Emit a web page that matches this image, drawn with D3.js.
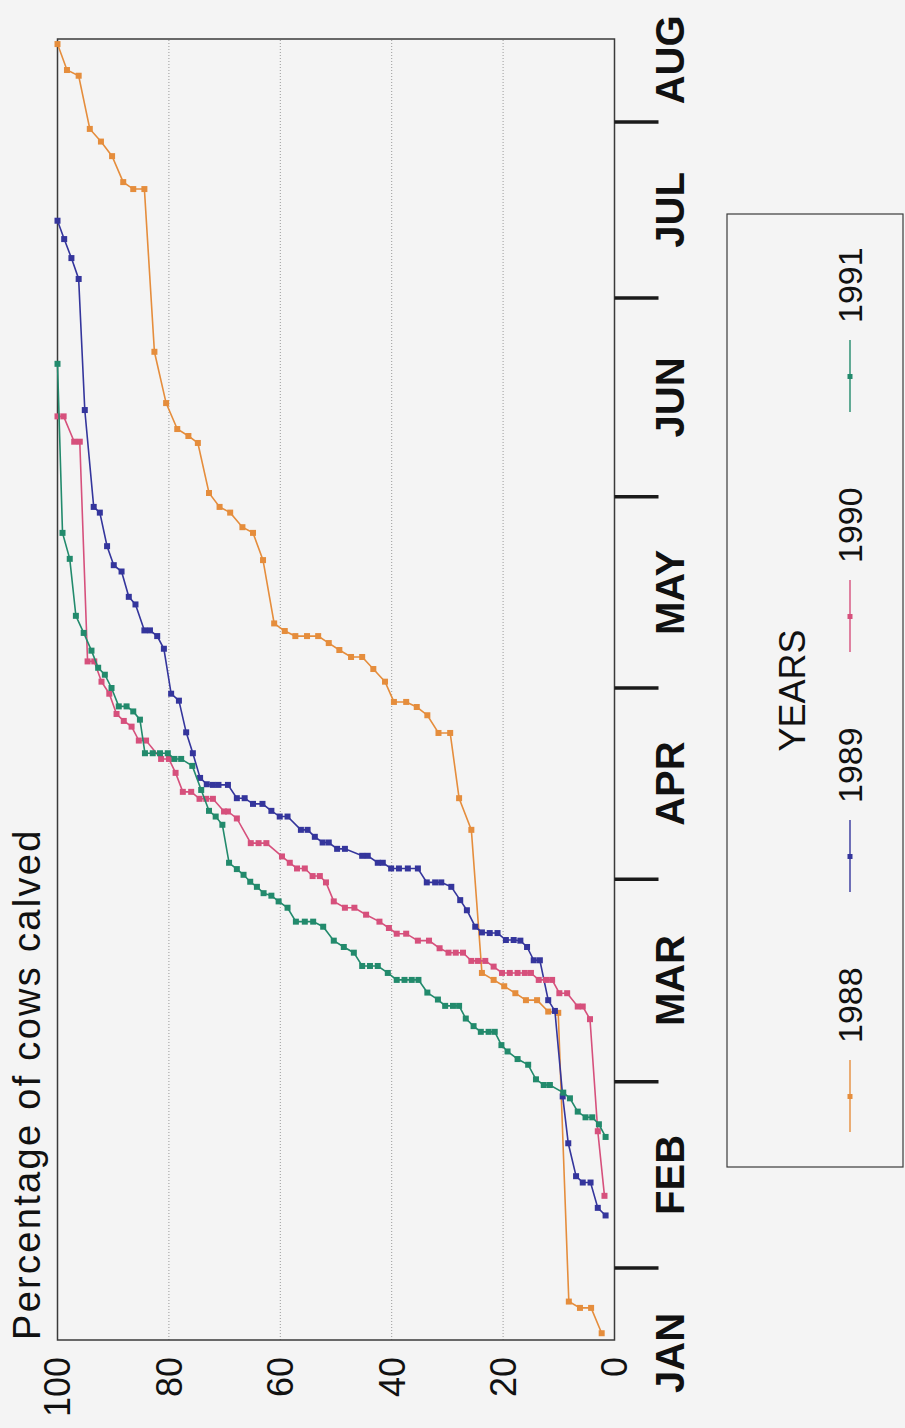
<!DOCTYPE html>
<html>
<head>
<meta charset="utf-8">
<script src="https://cdn.jsdelivr.net/npm/d3@7"></script>
<style>
  body { margin: 0; background: #f4f4f4; }
  text { font-family: 'Liberation Sans', Arial, sans-serif; fill: #111; }
</style>
</head>
<body>
<svg id="area"></svg>
<script>
// day of year (Jan 1 = 0) , cumulative % calved
const calving1988 = [[20.7, 2.3], [24.7, 4.2], [24.7, 6.2], [25.7, 8.2], [71.3, 10.1], [71.5, 11.9], [73.3, 13.9], [73.3, 15.9], [74.4, 17.8], [75.5, 19.8], [76.5, 21.7], [77.6, 23.8], [100.2, 25.7], [105.2, 27.9], [115.5, 29.5], [115.5, 31.6], [118.3, 33.6], [119.6, 35.5], [120.4, 37.4], [120.4, 39.6], [123.6, 41.2], [125.6, 43.3], [127.5, 45.3], [127.5, 47.3], [128.6, 49.4], [129.7, 51.3], [130.8, 53.2], [130.8, 55.2], [130.8, 57.3], [131.6, 59.2], [132.8, 61.1], [142.8, 63.1], [147.1, 64.9], [148.0, 66.8], [150.3, 69.0], [151.2, 70.9], [153.4, 72.8], [161.3, 74.8], [162.4, 76.5], [163.5, 78.5], [167.6, 80.5], [175.7, 82.6], [201.4, 84.4], [201.4, 86.4], [202.5, 88.2], [206.6, 90.2], [208.9, 92.2], [210.9, 94.2], [219.3, 96.2], [220.2, 98.3], [224.3, 100]];

const calving1989 = [[39.3, 1.6], [40.5, 3.0], [44.5, 4.3], [44.5, 5.7], [45.5, 6.9], [50.7, 8.3], [58.1, 9.3], [71.6, 10.7], [73.3, 11.9], [79.6, 13.4], [79.6, 14.5], [81.7, 15.7], [82.7, 16.9], [82.8, 18.1], [82.8, 19.5], [83.9, 21.0], [83.9, 22.4], [84.0, 23.8], [84.9, 25.0], [87.5, 26.5], [89.1, 27.7], [91.2, 29.3], [91.9, 31.1], [91.9, 32.2], [91.9, 33.7], [94.1, 35.3], [94.1, 37.1], [94.1, 38.7], [94.1, 40.1], [95.0, 41.6], [95.0, 42.5], [96.1, 44.3], [96.1, 45.3], [97.2, 48.4], [97.2, 49.8], [98.2, 51.3], [98.2, 52.4], [99.1, 53.8], [100.2, 55.1], [100.2, 56.3], [102.3, 58.7], [102.3, 60.1], [103.2, 61.6], [104.3, 63.2], [104.3, 64.9], [105.2, 66.4], [105.2, 67.8], [107.3, 69.4], [107.3, 71.1], [107.3, 72.1], [107.4, 73.2], [108.4, 74.4], [112.3, 75.7], [115.6, 76.9], [120.6, 78.2], [121.7, 79.6], [128.8, 80.9], [130.8, 82.1], [131.7, 83.4], [131.7, 84.4], [135.8, 86.0], [137.0, 87.2], [141.0, 88.5], [142.0, 89.9], [145.0, 91.1], [150.3, 92.4], [151.2, 93.5], [166.5, 95.1], [187.2, 96.2], [190.5, 97.5], [193.5, 98.8], [196.4, 100]];

const calving1990 = [[42.4, 1.8], [52.6, 3.0], [70.3, 4.4], [72.3, 5.7], [72.3, 6.6], [74.4, 8.5], [74.4, 9.9], [76.5, 11.2], [76.5, 12.3], [76.5, 13.6], [77.6, 15.0], [77.6, 16.1], [77.6, 17.4], [77.6, 18.8], [77.6, 20.2], [78.6, 21.7], [79.5, 23.2], [79.5, 24.5], [79.5, 25.7], [80.8, 27.2], [80.8, 28.5], [80.8, 29.8], [81.5, 31.4], [82.7, 33.3], [82.7, 35.3], [83.8, 37.4], [83.8, 39.1], [84.7, 40.5], [85.7, 42.2], [86.8, 44.6], [87.9, 46.7], [87.9, 48.4], [88.9, 50.4], [91.9, 51.8], [92.9, 52.9], [92.9, 54.2], [94.1, 55.6], [94.1, 57.0], [95.0, 58.3], [96.0, 59.7], [98.1, 62.5], [98.1, 63.9], [98.1, 65.3], [102.0, 67.8], [103.1, 69.4], [103.1, 70.1], [105.1, 72.1], [105.1, 73.3], [105.1, 74.5], [106.2, 76.0], [106.2, 77.5], [109.2, 78.8], [111.4, 80.0], [111.4, 81.4], [114.3, 84.1], [114.3, 85.4], [116.5, 86.7], [117.4, 88.1], [118.5, 89.4], [121.7, 90.7], [123.6, 92.1], [126.8, 93.4], [126.8, 94.6], [161.5, 96.0], [161.5, 97.0], [165.5, 98.9], [165.5, 100]];

const calving1991 = [[51.7, 1.6], [53.7, 2.8], [54.8, 4.0], [54.8, 5.2], [55.7, 6.6], [57.8, 8.0], [58.7, 9.2], [59.9, 11.6], [59.9, 12.7], [60.8, 14.1], [63.1, 15.5], [64.0, 17.4], [65.2, 19.2], [66.2, 20.3], [68.3, 21.5], [68.3, 22.6], [68.3, 24.0], [69.2, 25.3], [70.4, 26.7], [72.4, 27.9], [72.4, 29.0], [72.4, 30.4], [73.4, 31.7], [74.5, 33.6], [76.5, 35.2], [76.5, 36.4], [76.5, 37.7], [76.5, 39.1], [77.6, 40.7], [78.7, 42.5], [78.7, 43.9], [78.7, 45.3], [80.8, 46.8], [81.7, 48.6], [82.7, 50.4], [84.9, 52.3], [85.7, 54.1], [85.7, 55.6], [85.7, 57.2], [87.9, 58.7], [88.9, 60.3], [89.8, 61.6], [90.2, 63.0], [91.2, 64.2], [92.0, 65.4], [93.1, 66.6], [94.0, 67.8], [95.0, 69.2], [101.0, 70.4], [102.3, 71.6], [103.2, 72.8], [106.5, 74.2], [110.3, 75.8], [111.4, 77.8], [111.4, 79.0], [112.3, 80.2], [112.3, 81.6], [112.3, 82.9], [112.3, 84.3], [117.6, 85.2], [118.9, 86.4], [119.7, 87.6], [119.7, 89.0], [122.6, 90.3], [124.7, 91.5], [125.8, 92.7], [128.5, 93.9], [131.3, 95.3], [134.0, 96.7], [143.0, 97.8], [147.1, 99.1], [173.8, 100]];

const years = ['1988', '1989', '1990', '1991'];
const yearColors = ['#e58d3c', '#34359c', '#d6507c', '#228a6c'];
const seriesList = [calving1988, calving1989, calving1990, calving1991];

const monthNames = ['JAN', 'FEB', 'MAR', 'APR', 'MAY', 'JUN', 'JUL', 'AUG'];
const monthLabelDays = [17.6, 45.7, 76.4, 107.5, 137.7, 168.5, 198.1, 221.8];
const monthBreaks = [31, 60.4, 92.4, 122.6, 152.8, 184.2, 212];
const pctTicks = [0, 20, 40, 60, 80, 100];
const gridTicks = [20, 40, 60, 80];

const W = 905;
const H = 1428;

const svg = d3.select('#area')
  .attr('width', W)
  .attr('height', H);

svg.append('rect').attr('width', W).attr('height', H).attr('fill', '#f4f4f4');

// the chart is laid out landscape and turned a quarter to the left
const g = svg.append('g')
  .attr('transform', `translate(0, ${H}) rotate(-90)`);

const x = d3.scaleLinear()
  .domain([19.63, 225.1])
  .range([88, 1389]);

const y = d3.scaleLinear()
  .domain([0, 100])
  .range([614.5, 57.5]);

// grid
g.selectAll('.grid')
  .data(gridTicks)
  .enter().append('line')
  .attr('class', 'grid')
  .attr('x1', x.range()[0])
  .attr('x2', x.range()[1])
  .attr('y1', (d) => y(d))
  .attr('y2', (d) => y(d))
  .attr('stroke', '#9a9a9a')
  .attr('stroke-width', 1)
  .attr('stroke-dasharray', '1,2');

// frame
g.append('rect')
  .attr('x', x.range()[0])
  .attr('y', y(100))
  .attr('width', x.range()[1] - x.range()[0])
  .attr('height', y(0) - y(100))
  .attr('fill', 'none')
  .attr('stroke', '#3a3a3a')
  .attr('stroke-width', 1.5);

// percentage labels
g.selectAll('.ptick')
  .data(pctTicks)
  .enter().append('text')
  .attr('class', 'ptick')
  .attr('x', 71)
  .attr('y', (d) => y(d))
  .attr('dy', '0.36em')
  .attr('text-anchor', 'end')
  .style('font-size', '36px')
  .text((d) => d);

// month separators
g.selectAll('.mtick')
  .data(monthBreaks)
  .enter().append('line')
  .attr('class', 'mtick')
  .attr('x1', (d) => x(d))
  .attr('x2', (d) => x(d))
  .attr('y1', y(0))
  .attr('y2', y(0) + 44)
  .attr('stroke', '#1a1a1a')
  .attr('stroke-width', 3.5);

g.selectAll('.mlabel')
  .data(monthNames)
  .enter().append('text')
  .attr('class', 'mlabel')
  .attr('x', (d, i) => x(monthLabelDays[i]))
  .attr('y', 684)
  .attr('text-anchor', 'middle')
  .style('font-size', '40px')
  .style('font-weight', 'bold')
  .text((d) => d);

// title
g.append('text')
  .attr('x', 88)
  .attr('y', 40)
  .style('font-size', '38px')
  .style('letter-spacing', '2.3px')
  .text('Percentage of cows calved');

// series
const line = d3.line()
  .x((d) => x(d[0]))
  .y((d) => y(d[1]));

seriesList.forEach((data, i) => {
  const s = g.append('g').attr('class', `series y${years[i]}`);
  s.append('path')
    .datum(data)
    .attr('d', line)
    .attr('fill', 'none')
    .attr('stroke', yearColors[i])
    .attr('stroke-width', 1.6);
  s.selectAll('rect')
    .data(data)
    .enter().append('rect')
    .attr('x', (d) => x(d[0]) - 3)
    .attr('y', (d) => y(d[1]) - 3)
    .attr('width', 6)
    .attr('height', 6)
    .attr('fill', yearColors[i]);
});

// legend
const legend = g.append('g').attr('class', 'legend');
legend.append('rect')
  .attr('x', 261)
  .attr('y', 727)
  .attr('width', 953)
  .attr('height', 176)
  .attr('fill', 'none')
  .attr('stroke', '#3a3a3a')
  .attr('stroke-width', 1.2);

legend.append('text')
  .attr('x', 737.5)
  .attr('y', 805)
  .attr('text-anchor', 'middle')
  .style('font-size', '36px')
  .text('YEARS');

const items = legend.selectAll('.item')
  .data(years)
  .enter().append('g')
  .attr('class', 'item')
  .attr('transform', (d, i) => `translate(${296 + i * 240}, 850)`);

items.append('line')
  .attr('x1', 0)
  .attr('x2', 72)
  .attr('stroke', (d, i) => yearColors[i])
  .attr('stroke-width', 1.4);

items.append('rect')
  .attr('x', 33)
  .attr('y', -2.5)
  .attr('width', 5)
  .attr('height', 5)
  .attr('fill', (d, i) => yearColors[i]);

items.append('text')
  .attr('x', 89)
  .attr('y', 0)
  .attr('dy', '0.36em')
  .style('font-size', '34px')
  .text((d) => d);
</script>
</body>
</html>
